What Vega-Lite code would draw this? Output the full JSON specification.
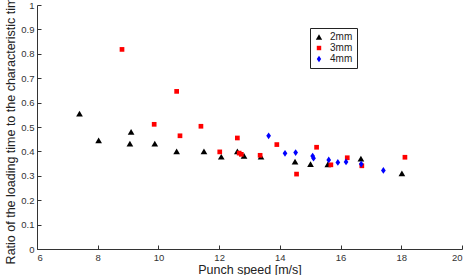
{
  "$schema": "https://vega.github.io/schema/vega-lite/v6.json",
  "width": 425,
  "height": 244,
  "autosize": {"type": "none"},
  "padding": {"left": 37, "top": 5, "right": 10, "bottom": 26},
  "background": "white",
  "config": {
    "view": {"stroke": null},
    "font": "Liberation Sans",
    "axis": {
      "grid": false,
      "domainColor": "#333333",
      "tickColor": "#333333",
      "labelColor": "#333333",
      "labelFontSize": 9.5,
      "titleFontSize": 12.5,
      "titleFontWeight": "normal",
      "titleColor": "#222222",
      "tickSize": -4,
      "labelPadding": 7
    }
  },
  "data": {"values": [
    {"speed": 7.40, "ratio": 0.555, "size": "2mm"},
    {"speed": 8.03, "ratio": 0.445, "size": "2mm"},
    {"speed": 9.10, "ratio": 0.48, "size": "2mm"},
    {"speed": 9.06, "ratio": 0.432, "size": "2mm"},
    {"speed": 9.88, "ratio": 0.432, "size": "2mm"},
    {"speed": 10.60, "ratio": 0.40, "size": "2mm"},
    {"speed": 11.50, "ratio": 0.40, "size": "2mm"},
    {"speed": 12.07, "ratio": 0.378, "size": "2mm"},
    {"speed": 12.60, "ratio": 0.40, "size": "2mm"},
    {"speed": 12.82, "ratio": 0.382, "size": "2mm"},
    {"speed": 13.38, "ratio": 0.378, "size": "2mm"},
    {"speed": 14.50, "ratio": 0.358, "size": "2mm"},
    {"speed": 15.01, "ratio": 0.348, "size": "2mm"},
    {"speed": 15.58, "ratio": 0.347, "size": "2mm"},
    {"speed": 16.67, "ratio": 0.37, "size": "2mm"},
    {"speed": 18.02, "ratio": 0.31, "size": "2mm"},
    {"speed": 8.80, "ratio": 0.818, "size": "3mm"},
    {"speed": 9.86, "ratio": 0.511, "size": "3mm"},
    {"speed": 10.60, "ratio": 0.646, "size": "3mm"},
    {"speed": 10.71, "ratio": 0.464, "size": "3mm"},
    {"speed": 11.40, "ratio": 0.503, "size": "3mm"},
    {"speed": 12.02, "ratio": 0.398, "size": "3mm"},
    {"speed": 12.60, "ratio": 0.455, "size": "3mm"},
    {"speed": 12.66, "ratio": 0.393, "size": "3mm"},
    {"speed": 12.73, "ratio": 0.388, "size": "3mm"},
    {"speed": 13.35, "ratio": 0.384, "size": "3mm"},
    {"speed": 13.90, "ratio": 0.428, "size": "3mm"},
    {"speed": 14.55, "ratio": 0.307, "size": "3mm"},
    {"speed": 15.21, "ratio": 0.417, "size": "3mm"},
    {"speed": 15.68, "ratio": 0.345, "size": "3mm"},
    {"speed": 16.22, "ratio": 0.374, "size": "3mm"},
    {"speed": 16.70, "ratio": 0.341, "size": "3mm"},
    {"speed": 18.12, "ratio": 0.376, "size": "3mm"},
    {"speed": 13.63, "ratio": 0.464, "size": "4mm"},
    {"speed": 14.17, "ratio": 0.392, "size": "4mm"},
    {"speed": 14.52, "ratio": 0.395, "size": "4mm"},
    {"speed": 15.08, "ratio": 0.381, "size": "4mm"},
    {"speed": 15.11, "ratio": 0.372, "size": "4mm"},
    {"speed": 15.61, "ratio": 0.365, "size": "4mm"},
    {"speed": 15.91, "ratio": 0.355, "size": "4mm"},
    {"speed": 16.18, "ratio": 0.357, "size": "4mm"},
    {"speed": 16.68, "ratio": 0.348, "size": "4mm"},
    {"speed": 17.41, "ratio": 0.322, "size": "4mm"}
  ]},
  "mark": {"type": "point", "filled": true, "opacity": 1, "size": 45},
  "encoding": {
    "x": {
      "field": "speed", "type": "quantitative",
      "scale": {"domain": [6, 20], "nice": false, "zero": false},
      "axis": {"title": "Punch speed [m/s]", "values": [6, 8, 10, 12, 14, 16, 18, 20], "titlePadding": 2}
    },
    "y": {
      "field": "ratio", "type": "quantitative",
      "scale": {"domain": [0, 1], "nice": false},
      "axis": {"title": "Ratio of the loading time to the characteristic time", "values": [0, 0.1, 0.2, 0.3, 0.4, 0.5, 0.6, 0.7, 0.8, 0.9, 1], "format": "~g", "titlePadding": 3}
    },
    "color": {
      "field": "size", "type": "nominal",
      "scale": {"domain": ["2mm", "3mm", "4mm"], "range": ["#000000", "#ff0000", "#0000ff"]},
      "legend": {
        "title": null, "orient": "none", "legendX": 273, "legendY": 23,
        "strokeColor": "#222222", "fillColor": "white", "padding": 4,
        "labelFontSize": 10, "labelColor": "#222222", "rowPadding": 1,
        "labelOffset": 6, "symbolSize": 40
      }
    },
    "shape": {
      "field": "size", "type": "nominal",
      "scale": {"domain": ["2mm", "3mm", "4mm"], "range": ["M0,-0.85L1,0.85L-1,0.85Z", "M-0.7,-0.7L0.7,-0.7L0.7,0.7L-0.7,0.7Z", "M0,-1L0.7,0L0,1L-0.7,0Z"]}
    }
  }
}
